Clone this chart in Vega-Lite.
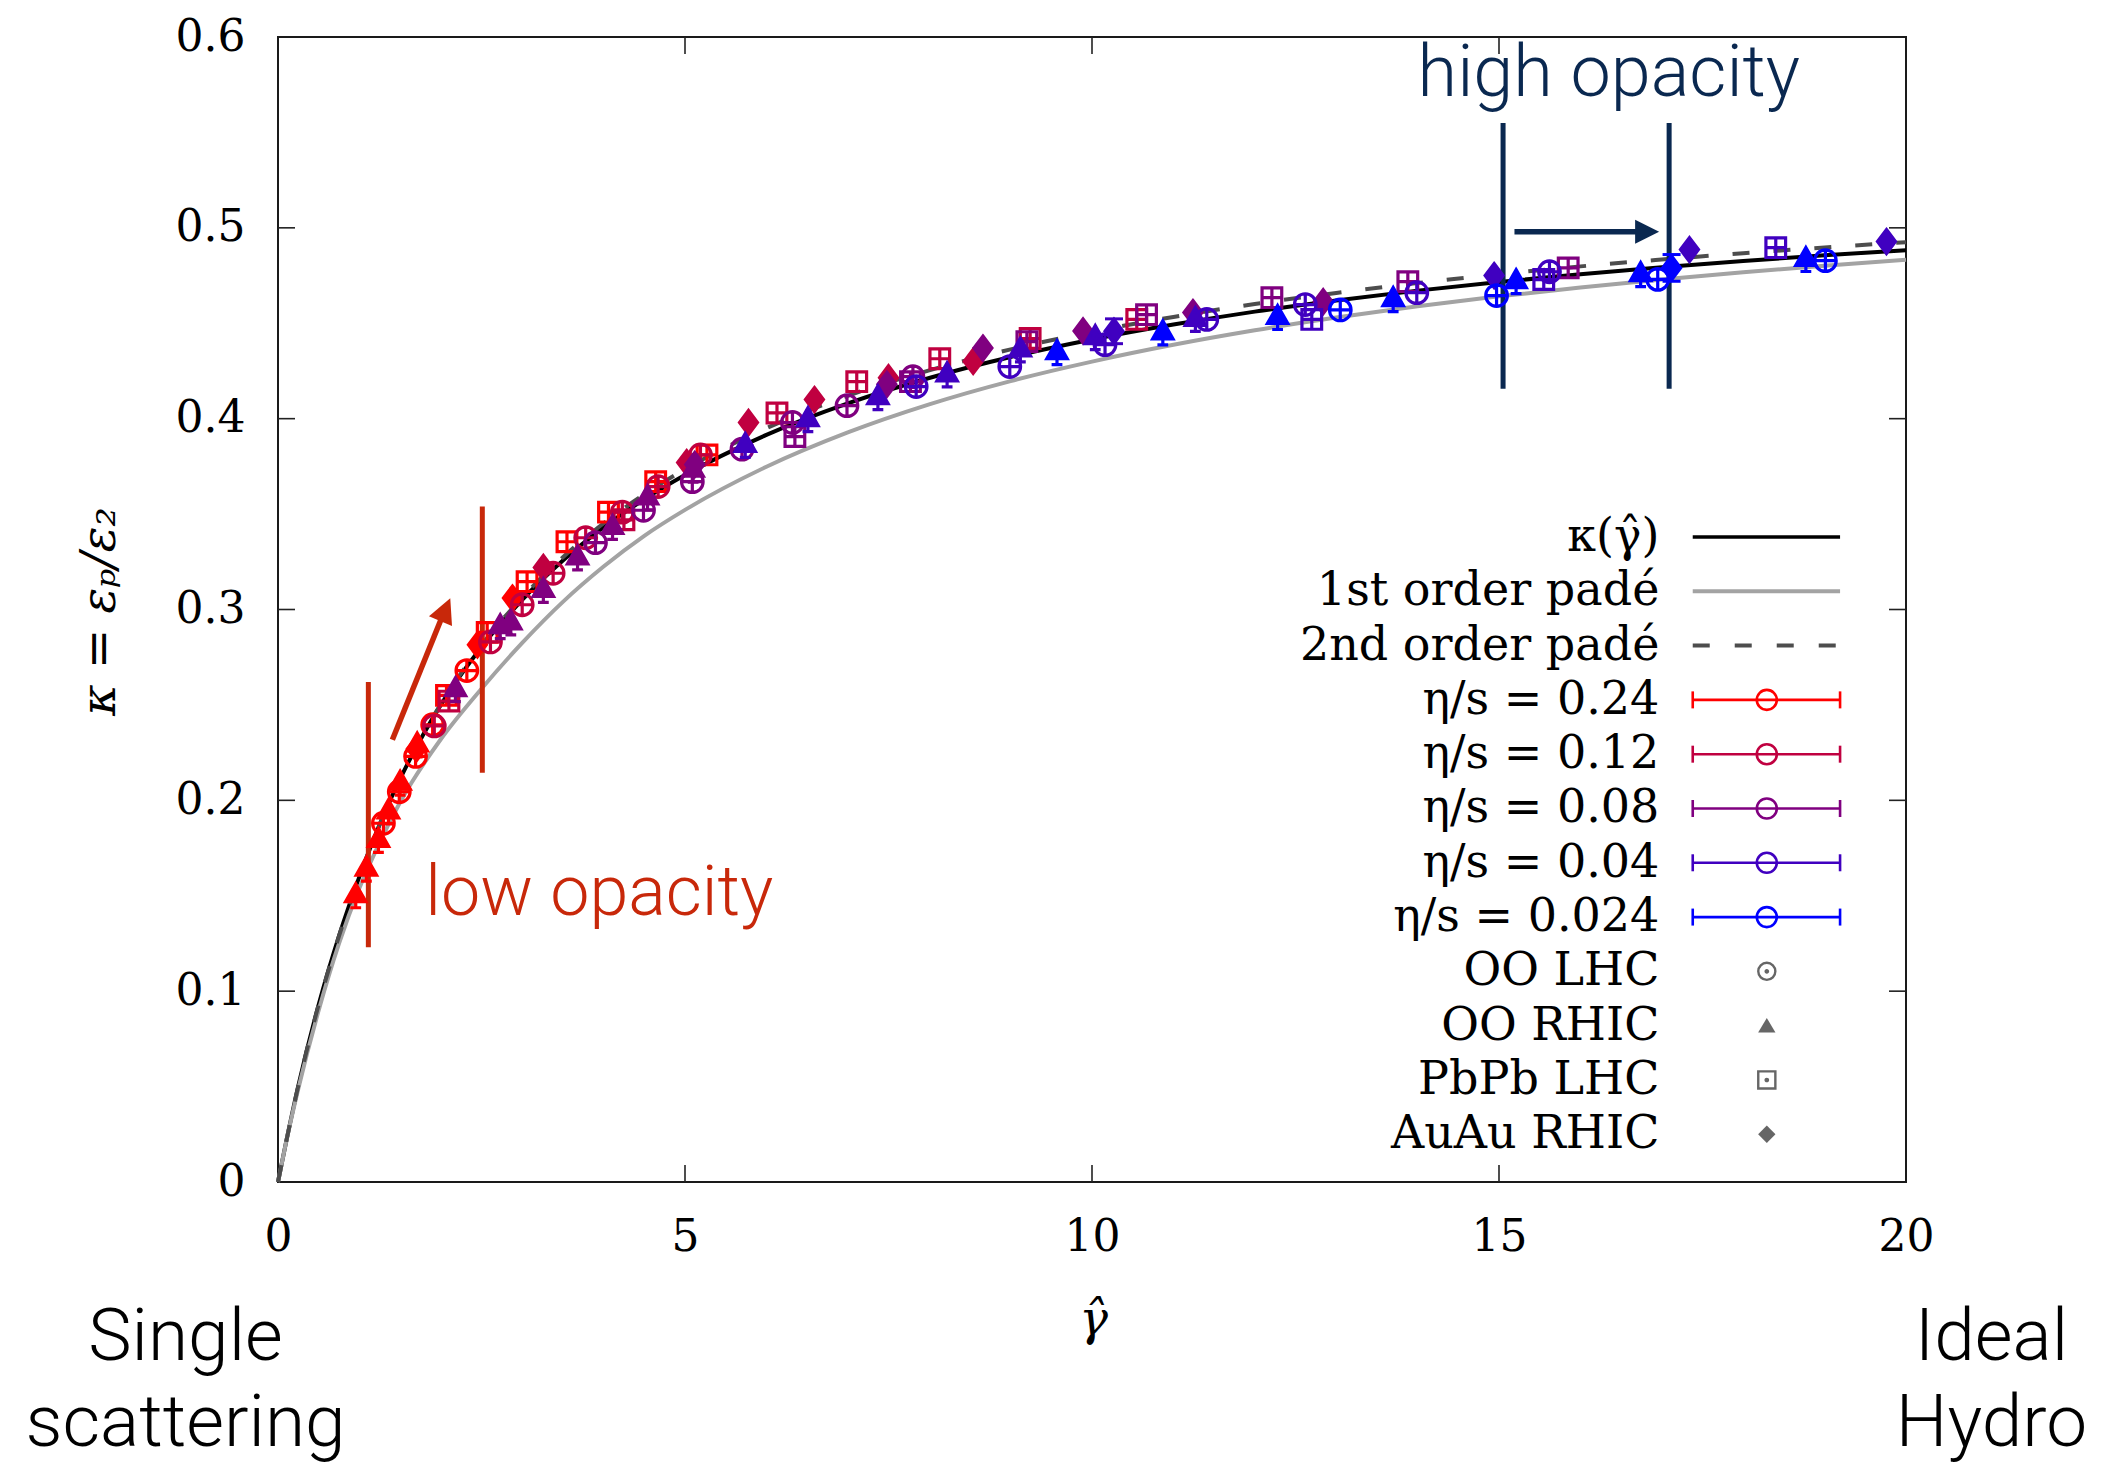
{
"$schema": "https://vega.github.io/schema/vega-lite/v6.json",
"width": 1628, "height": 1145,
"autosize": {"type": "none"},
"padding": {"left": 278, "top": 37, "right": 196, "bottom": 282},
"background": "white",
"config": {"view": {"stroke": "#1a1a1a", "strokeWidth": 2}, "axis": {"grid": false}},
"datasets": {
"curves": [
{"g":0,"k":0,"p1":0,"p2":0},
{"g":0.1,"k":0.021,"p1":0.021,"p2":0.021},
{"g":0.25,"k":0.0505,"p1":0.049,"p2":0.0505},
{"g":0.5,"k":0.093,"p1":0.09,"p2":0.093},
{"g":0.75,"k":0.129,"p1":0.125,"p2":0.129},
{"g":1,"k":0.16,"p1":0.154,"p2":0.16},
{"g":1.25,"k":0.1875,"p1":0.178,"p2":0.1875},
{"g":1.5,"k":0.2112,"p1":0.199,"p2":0.2115},
{"g":2,"k":0.25,"p1":0.232,"p2":0.2505},
{"g":2.5,"k":0.2804,"p1":0.2585,"p2":0.2812},
{"g":3,"k":0.3051,"p1":0.2825,"p2":0.3063},
{"g":3.5,"k":0.3257,"p1":0.304,"p2":0.3274},
{"g":4,"k":0.343,"p1":0.3225,"p2":0.3452},
{"g":4.5,"k":0.3578,"p1":0.3386,"p2":0.3604},
{"g":5,"k":0.3705,"p1":0.3522,"p2":0.3735},
{"g":6,"k":0.3915,"p1":0.3748,"p2":0.395},
{"g":7,"k":0.408,"p1":0.3928,"p2":0.412},
{"g":8,"k":0.4213,"p1":0.4075,"p2":0.4253},
{"g":9,"k":0.4323,"p1":0.4197,"p2":0.4363},
{"g":10,"k":0.4415,"p1":0.4299,"p2":0.4455},
{"g":11,"k":0.4493,"p1":0.4387,"p2":0.4533},
{"g":12,"k":0.4561,"p1":0.4463,"p2":0.4601},
{"g":13,"k":0.4619,"p1":0.453,"p2":0.4659},
{"g":14,"k":0.4671,"p1":0.4589,"p2":0.4711},
{"g":15,"k":0.4716,"p1":0.4641,"p2":0.4757},
{"g":16,"k":0.4757,"p1":0.4687,"p2":0.4798},
{"g":17,"k":0.4793,"p1":0.4729,"p2":0.4834},
{"g":18,"k":0.4826,"p1":0.4767,"p2":0.4867},
{"g":19,"k":0.4856,"p1":0.4801,"p2":0.4897},
{"g":20,"k":0.4883,"p1":0.4833,"p2":0.4925}
],
"pts": [
{"g":0.955,"k":0.150,"sys":"OO RHIC","eta":"0.24"},
{"g":1.086,"k":0.164,"sys":"OO RHIC","eta":"0.24"},
{"g":1.234,"k":0.179,"sys":"OO RHIC","eta":"0.24"},
{"g":1.295,"k":0.188,"sys":"OO LHC","eta":"0.24"},
{"g":1.357,"k":0.194,"sys":"OO RHIC","eta":"0.24"},
{"g":1.49,"k":0.2045,"sys":"OO LHC","eta":"0.24"},
{"g":1.50,"k":0.209,"sys":"OO RHIC","eta":"0.24"},
{"g":1.69,"k":0.223,"sys":"OO LHC","eta":"0.24"},
{"g":1.70,"k":0.227,"sys":"AuAu RHIC","eta":"0.24"},
{"g":1.71,"k":0.229,"sys":"OO RHIC","eta":"0.24"},
{"g":1.90,"k":0.2396,"sys":"OO LHC","eta":"0.24"},
{"g":2.07,"k":0.255,"sys":"PbPb LHC","eta":"0.24"},
{"g":2.32,"k":0.268,"sys":"OO LHC","eta":"0.24"},
{"g":2.45,"k":0.2815,"sys":"AuAu RHIC","eta":"0.24"},
{"g":2.57,"k":0.288,"sys":"PbPb LHC","eta":"0.24"},
{"g":2.88,"k":0.306,"sys":"AuAu RHIC","eta":"0.24"},
{"g":3.06,"k":0.3146,"sys":"PbPb LHC","eta":"0.24"},
{"g":3.55,"k":0.3355,"sys":"PbPb LHC","eta":"0.24"},
{"g":4.06,"k":0.351,"sys":"PbPb LHC","eta":"0.24"},
{"g":4.64,"k":0.367,"sys":"PbPb LHC","eta":"0.24"},
{"g":5.27,"k":0.381,"sys":"PbPb LHC","eta":"0.24"},
{"g":1.92,"k":0.239,"sys":"OO LHC","eta":"0.12"},
{"g":2.10,"k":0.252,"sys":"PbPb LHC","eta":"0.12"},
{"g":2.61,"k":0.283,"sys":"OO LHC","eta":"0.12"},
{"g":3.0,"k":0.3025,"sys":"OO LHC","eta":"0.12"},
{"g":3.26,"k":0.322,"sys":"AuAu RHIC","eta":"0.12"},
{"g":3.38,"k":0.319,"sys":"OO LHC","eta":"0.12"},
{"g":3.78,"k":0.3376,"sys":"OO LHC","eta":"0.12"},
{"g":4.23,"k":0.351,"sys":"OO LHC","eta":"0.12"},
{"g":4.25,"k":0.347,"sys":"PbPb LHC","eta":"0.12"},
{"g":4.67,"k":0.3644,"sys":"OO LHC","eta":"0.12"},
{"g":5.02,"k":0.377,"sys":"AuAu RHIC","eta":"0.12"},
{"g":5.19,"k":0.381,"sys":"OO LHC","eta":"0.12"},
{"g":5.78,"k":0.398,"sys":"AuAu RHIC","eta":"0.12"},
{"g":6.13,"k":0.403,"sys":"PbPb LHC","eta":"0.12"},
{"g":6.59,"k":0.41,"sys":"AuAu RHIC","eta":"0.12"},
{"g":7.11,"k":0.4194,"sys":"PbPb LHC","eta":"0.12"},
{"g":7.50,"k":0.4215,"sys":"AuAu RHIC","eta":"0.12"},
{"g":8.13,"k":0.4314,"sys":"PbPb LHC","eta":"0.12"},
{"g":8.54,"k":0.430,"sys":"AuAu RHIC","eta":"0.12"},
{"g":9.24,"k":0.442,"sys":"PbPb LHC","eta":"0.12"},
{"g":10.55,"k":0.452,"sys":"PbPb LHC","eta":"0.12"},
{"g":2.18,"k":0.258,"sys":"OO RHIC","eta":"0.08"},
{"g":2.73,"k":0.291,"sys":"OO RHIC","eta":"0.08"},
{"g":2.86,"k":0.293,"sys":"OO RHIC","eta":"0.08"},
{"g":3.26,"k":0.31,"sys":"OO RHIC","eta":"0.08"},
{"g":3.68,"k":0.327,"sys":"OO RHIC","eta":"0.08"},
{"g":3.90,"k":0.335,"sys":"OO LHC","eta":"0.08"},
{"g":4.11,"k":0.343,"sys":"OO RHIC","eta":"0.08"},
{"g":4.49,"k":0.352,"sys":"OO LHC","eta":"0.08"},
{"g":4.54,"k":0.3585,"sys":"OO RHIC","eta":"0.08"},
{"g":5.09,"k":0.367,"sys":"OO LHC","eta":"0.08"},
{"g":5.10,"k":0.373,"sys":"OO RHIC","eta":"0.08"},
{"g":5.12,"k":0.376,"sys":"AuAu RHIC","eta":"0.08"},
{"g":5.70,"k":0.384,"sys":"OO LHC","eta":"0.08"},
{"g":6.32,"k":0.398,"sys":"OO LHC","eta":"0.08"},
{"g":6.35,"k":0.3906,"sys":"PbPb LHC","eta":"0.08"},
{"g":6.99,"k":0.4068,"sys":"OO LHC","eta":"0.08"},
{"g":7.48,"k":0.418,"sys":"AuAu RHIC","eta":"0.08"},
{"g":7.77,"k":0.4194,"sys":"PbPb LHC","eta":"0.08"},
{"g":7.80,"k":0.422,"sys":"OO LHC","eta":"0.08"},
{"g":8.66,"k":0.437,"sys":"AuAu RHIC","eta":"0.08"},
{"g":9.20,"k":0.4404,"sys":"PbPb LHC","eta":"0.08"},
{"g":9.89,"k":0.446,"sys":"AuAu RHIC","eta":"0.08"},
{"g":10.67,"k":0.4545,"sys":"PbPb LHC","eta":"0.08"},
{"g":11.24,"k":0.4556,"sys":"AuAu RHIC","eta":"0.08"},
{"g":12.21,"k":0.4634,"sys":"PbPb LHC","eta":"0.08"},
{"g":12.84,"k":0.4613,"sys":"AuAu RHIC","eta":"0.08"},
{"g":13.88,"k":0.4718,"sys":"PbPb LHC","eta":"0.08"},
{"g":15.85,"k":0.479,"sys":"PbPb LHC","eta":"0.08"},
{"g":5.74,"k":0.386,"sys":"OO RHIC","eta":"0.04"},
{"g":6.51,"k":0.3995,"sys":"OO RHIC","eta":"0.04"},
{"g":7.37,"k":0.411,"sys":"OO RHIC","eta":"0.04"},
{"g":7.84,"k":0.4168,"sys":"OO LHC","eta":"0.04"},
{"g":8.22,"k":0.423,"sys":"OO RHIC","eta":"0.04"},
{"g":8.99,"k":0.4273,"sys":"OO LHC","eta":"0.04"},
{"g":9.12,"k":0.436,"sys":"OO RHIC","eta":"0.04"},
{"g":10.04,"k":0.4425,"sys":"OO RHIC","eta":"0.04"},
{"g":10.16,"k":0.4388,"sys":"OO LHC","eta":"0.04"},
{"g":10.27,"k":0.4458,"sys":"AuAu RHIC","eta":"0.04"},
{"g":11.27,"k":0.452,"sys":"OO RHIC","eta":"0.04"},
{"g":11.41,"k":0.452,"sys":"OO LHC","eta":"0.04"},
{"g":12.62,"k":0.4598,"sys":"OO LHC","eta":"0.04"},
{"g":12.70,"k":0.452,"sys":"PbPb LHC","eta":"0.04"},
{"g":13.99,"k":0.466,"sys":"OO LHC","eta":"0.04"},
{"g":14.94,"k":0.475,"sys":"AuAu RHIC","eta":"0.04"},
{"g":15.55,"k":0.4729,"sys":"PbPb LHC","eta":"0.04"},
{"g":15.62,"k":0.477,"sys":"OO LHC","eta":"0.04"},
{"g":17.34,"k":0.4886,"sys":"AuAu RHIC","eta":"0.04"},
{"g":18.40,"k":0.4896,"sys":"PbPb LHC","eta":"0.04"},
{"g":19.76,"k":0.4928,"sys":"AuAu RHIC","eta":"0.04"},
{"g":9.57,"k":0.4346,"sys":"OO RHIC","eta":"0.024"},
{"g":10.87,"k":0.445,"sys":"OO RHIC","eta":"0.024"},
{"g":12.28,"k":0.453,"sys":"OO RHIC","eta":"0.024"},
{"g":13.05,"k":0.457,"sys":"OO LHC","eta":"0.024"},
{"g":13.70,"k":0.4624,"sys":"OO RHIC","eta":"0.024"},
{"g":14.97,"k":0.4645,"sys":"OO LHC","eta":"0.024"},
{"g":15.21,"k":0.4718,"sys":"OO RHIC","eta":"0.024"},
{"g":16.74,"k":0.4755,"sys":"OO RHIC","eta":"0.024"},
{"g":16.95,"k":0.473,"sys":"OO LHC","eta":"0.024"},
{"g":17.12,"k":0.479,"sys":"AuAu RHIC","eta":"0.024"},
{"g":18.77,"k":0.4834,"sys":"OO RHIC","eta":"0.024"},
{"g":19.01,"k":0.4828,"sys":"OO LHC","eta":"0.024"}
],
"err": [
{"g":10.27,"lo":0.4393,"hi":0.4523,"eta":"0.04"},
{"g":17.12,"lo":0.472,"hi":0.486,"eta":"0.024"}
],
"leg": [
{"label":"κ(γ\u0302)","rank":0},
{"label":"1st order padé","rank":1},
{"label":"2nd order padé","rank":2},
{"label":"η/s = 0.24","rank":3,"eta":"0.24"},
{"label":"η/s = 0.12","rank":4,"eta":"0.12"},
{"label":"η/s = 0.08","rank":5,"eta":"0.08"},
{"label":"η/s = 0.04","rank":6,"eta":"0.04"},
{"label":"η/s = 0.024","rank":7,"eta":"0.024"},
{"label":"OO LHC","rank":8,"sys":"OO LHC"},
{"label":"OO RHIC","rank":9,"sys":"OO RHIC"},
{"label":"PbPb LHC","rank":10,"sys":"PbPb LHC"},
{"label":"AuAu RHIC","rank":11,"sys":"AuAu RHIC"}
],
"xt": [{"v":5},{"v":10},{"v":15}],
"yt": [{"v":0.1},{"v":0.2},{"v":0.3},{"v":0.4},{"v":0.5}]
},
"layer": [
{
"layer": [
{"data":{"name":"curves"},
 "mark":{"type":"line","color":"#000000","strokeWidth":4,"interpolate":"monotone"},
 "encoding":{
  "x":{"field":"g","type":"quantitative","scale":{"domain":[0,20],"nice":false,"zero":false},
   "axis":{"values":[0,5,10,15,20],"format":"d","labelFont":"DejaVu Serif","labelFontSize":44,"labelColor":"#000","labelPadding":33,"ticks":false,"tickSize":0,"domain":false,"grid":false,"labelFlush":false,"labelOverlap":false,
   "title":"γ\u0302","titleFont":"DejaVu Serif","titleFontStyle":"italic","titleFontWeight":"normal","titleFontSize":48,"titleColor":"#000","titleX":815,"titleY":138,"titleAlign":"center","titleBaseline":"middle","titleAngle":0}},
  "y":{"field":"k","type":"quantitative","scale":{"domain":[0,0.6],"nice":false,"zero":false},
   "axis":{"values":[0,0.1,0.2,0.3,0.4,0.5,0.6],"format":".1~f","labelFont":"DejaVu Serif","labelFontSize":44,"labelColor":"#000","labelPadding":33,"ticks":false,"tickSize":0,"domain":false,"grid":false,"labelFlush":false,"labelOverlap":false,
   "title":"κ = εₚ/ε₂","titleFont":"DejaVu Serif","titleFontStyle":"italic","titleFontWeight":"normal","titleFontSize":48,"titleColor":"#000","titleX":-178,"titleY":574,"titleAngle":270,"titleAlign":"center","titleBaseline":"middle"}}
 }},
{"data":{"name":"curves"},
 "mark":{"type":"line","color":"#a3a3a3","strokeWidth":4,"interpolate":"monotone"},
 "encoding":{"x":{"field":"g","type":"quantitative"},"y":{"field":"p1","type":"quantitative"}}},
{"data":{"name":"curves"},
 "mark":{"type":"line","color":"#4d4d4d","strokeWidth":4,"strokeDash":[17,24],"interpolate":"monotone"},
 "encoding":{"x":{"field":"g","type":"quantitative"},"y":{"field":"p2","type":"quantitative"}}},
{"data":{"name":"xt"},"mark":{"type":"point","shape":"M0,0V-1","size":1156,"filled":false,"stroke":"#222","strokeWidth":1.6,"opacity":1},
 "encoding":{"x":{"field":"v","type":"quantitative"},"y":{"datum":0,"type":"quantitative"}}},
{"data":{"name":"xt"},"mark":{"type":"point","shape":"M0,0V1","size":1156,"filled":false,"stroke":"#222","strokeWidth":1.6,"opacity":1},
 "encoding":{"x":{"field":"v","type":"quantitative"},"y":{"datum":0.6,"type":"quantitative"}}},
{"data":{"name":"yt"},"mark":{"type":"point","shape":"M0,0H1","size":1156,"filled":false,"stroke":"#222","strokeWidth":1.6,"opacity":1},
 "encoding":{"y":{"field":"v","type":"quantitative"},"x":{"datum":0,"type":"quantitative"}}},
{"data":{"name":"yt"},"mark":{"type":"point","shape":"M0,0H-1","size":1156,"filled":false,"stroke":"#222","strokeWidth":1.6,"opacity":1},
 "encoding":{"y":{"field":"v","type":"quantitative"},"x":{"datum":20,"type":"quantitative"}}},
{"data":{"values":[{"g":1.11,"lo":0.123,"hi":0.262},{"g":2.51,"lo":0.2144,"hi":0.354}]},
 "mark":{"type":"rule","color":"#c8280a","strokeWidth":5},
 "encoding":{"x":{"field":"g","type":"quantitative"},"y":{"field":"lo","type":"quantitative"},"y2":{"field":"hi"}}},
{"data":{"values":[{"g":1.405,"k":0.2317,"g2":2.0,"k2":0.2945}]},
 "mark":{"type":"rule","color":"#c8280a","strokeWidth":5.5},
 "encoding":{"x":{"field":"g","type":"quantitative"},"y":{"field":"k","type":"quantitative"},"x2":{"field":"g2"},"y2":{"field":"k2"}}},
{"data":{"values":[{"g":2.056,"k":0.2999}]},
 "mark":{"type":"point","shape":"M0,-1L1,1L-1,1Z","size":625,"angle":23,"filled":true,"color":"#c8280a","opacity":1},
 "encoding":{"x":{"field":"g","type":"quantitative"},"y":{"field":"k","type":"quantitative"}}},
{"data":{"values":[{"g":15.05,"lo":0.4157,"hi":0.555},{"g":17.09,"lo":0.4157,"hi":0.555}]},
 "mark":{"type":"rule","color":"#0a2850","strokeWidth":5},
 "encoding":{"x":{"field":"g","type":"quantitative"},"y":{"field":"lo","type":"quantitative"},"y2":{"field":"hi"}}},
{"data":{"values":[{"g":15.19,"k":0.498,"g2":16.7,"k2":0.498}]},
 "mark":{"type":"rule","color":"#0a2850","strokeWidth":5.5},
 "encoding":{"x":{"field":"g","type":"quantitative"},"y":{"field":"k","type":"quantitative"},"x2":{"field":"g2"},"y2":{"field":"k2"}}},
{"data":{"values":[{"g":16.82,"k":0.498}]},
 "mark":{"type":"point","shape":"M0,-1L1,1L-1,1Z","size":576,"angle":90,"filled":true,"color":"#0a2850","opacity":1},
 "encoding":{"x":{"field":"g","type":"quantitative"},"y":{"field":"k","type":"quantitative"}}},
{"data":{"name":"err"},
 "mark":{"type":"rule","strokeWidth":3},
 "encoding":{"x":{"field":"g","type":"quantitative"},"y":{"field":"lo","type":"quantitative"},"y2":{"field":"hi"},
  "stroke":{"field":"eta","type":"nominal","scale":{"domain":["0.24","0.12","0.08","0.04","0.024"],"range":["#ff0000","#c00040","#800080","#4000c0","#0000ff"]},"legend":null}}},
{"data":{"name":"err"},
 "mark":{"type":"point","shape":"M-1,0H1","size":324,"filled":false,"strokeWidth":3,"opacity":1},
 "encoding":{"x":{"field":"g","type":"quantitative"},"y":{"field":"lo","type":"quantitative"},
  "stroke":{"field":"eta","type":"nominal","legend":null}}},
{"data":{"name":"err"},
 "mark":{"type":"point","shape":"M-1,0H1","size":324,"filled":false,"strokeWidth":3,"opacity":1},
 "encoding":{"x":{"field":"g","type":"quantitative"},"y":{"field":"hi","type":"quantitative"},
  "stroke":{"field":"eta","type":"nominal","legend":null}}},
{"data":{"name":"pts"},
 "mark":{"type":"point","size":576,"strokeWidth":3.2,"opacity":1},
 "encoding":{"x":{"field":"g","type":"quantitative"},"y":{"field":"k","type":"quantitative"},
  "shape":{"field":"sys","type":"nominal","scale":{"domain":["OO LHC","OO RHIC","PbPb LHC","AuAu RHIC"],
    "range":["M0.9,0A0.9,0.9,0,1,1,-0.9,0A0.9,0.9,0,1,1,0.9,0Z M-0.9,0H0.9 M0,-0.9V0.9",
             "M0,-1L0.85,0.5H-0.85Z M0,0.5V1 M-0.45,1H0.45",
             "M-0.82,-0.82H0.82V0.82H-0.82Z M-0.82,0H0.82 M0,-0.82V0.82",
             "M0,-1L0.75,0L0,1L-0.75,0Z"]},"legend":null},
  "stroke":{"field":"eta","type":"nominal","legend":null},
  "fill":{"field":"eta","type":"nominal","scale":{"domain":["0.24","0.12","0.08","0.04","0.024"],"range":["#ff0000","#c00040","#800080","#4000c0","#0000ff"]},"legend":null},
  "fillOpacity":{"field":"sys","type":"nominal","scale":{"type":"ordinal","domain":["OO LHC","OO RHIC","PbPb LHC","AuAu RHIC"],"range":[0,1,0,1]},"legend":null}
 }},
{"data":{"values":[{"g":1.81,"k":0.14,"t":"low opacity"}]},
 "mark":{"type":"text","align":"left","baseline":"alphabetic","font":"Roboto","fontWeight":300,"fontSize":70,"color":"#c8280a"},
 "encoding":{"x":{"field":"g","type":"quantitative"},"y":{"field":"k","type":"quantitative"},"text":{"field":"t"}}},
{"data":{"values":[{"g":14.0,"k":0.569,"t":"high opacity"}]},
 "mark":{"type":"text","align":"left","baseline":"alphabetic","font":"Roboto","fontWeight":300,"fontSize":72,"color":"#0a2850"},
 "encoding":{"x":{"field":"g","type":"quantitative"},"y":{"field":"k","type":"quantitative"},"text":{"field":"t"}}},
{"data":{"values":[{"g":-1.136,"k":-0.0933,"t":"Single"},{"g":-1.136,"k":-0.1385,"t":"scattering"},{"g":21.05,"k":-0.0933,"t":"Ideal"},{"g":21.05,"k":-0.1385,"t":"Hydro"}]},
 "mark":{"type":"text","align":"center","baseline":"alphabetic","font":"Roboto","fontWeight":300,"fontSize":73,"color":"#000"},
 "encoding":{"x":{"field":"g","type":"quantitative"},"y":{"field":"k","type":"quantitative"},"text":{"field":"t"}}}
]
},
{
"layer": [
{"data":{"name":"leg"},
 "mark":{"type":"text","align":"right","baseline":"middle","font":"DejaVu Serif","fontSize":46,"color":"#000"},
 "encoding":{"x":{"datum":16.97,"type":"quantitative"},
  "y":{"field":"rank","type":"quantitative","scale":{"domain":[-9.208,11.879],"reverse":true,"nice":false,"zero":false},"axis":null},
  "text":{"field":"label"}}},
{"data":{"name":"leg"},"transform":[{"filter":{"field":"rank","equal":0}}],
 "mark":{"type":"rule","color":"#000","strokeWidth":3.6},
 "encoding":{"x":{"datum":17.38,"type":"quantitative"},"x2":{"datum":19.19},"y":{"field":"rank","type":"quantitative","axis":null}}},
{"data":{"name":"leg"},"transform":[{"filter":{"field":"rank","equal":1}}],
 "mark":{"type":"rule","color":"#a3a3a3","strokeWidth":4},
 "encoding":{"x":{"datum":17.38,"type":"quantitative"},"x2":{"datum":19.19},"y":{"field":"rank","type":"quantitative","axis":null}}},
{"data":{"name":"leg"},"transform":[{"filter":{"field":"rank","equal":2}}],
 "mark":{"type":"rule","color":"#4d4d4d","strokeWidth":4,"strokeDash":[17,25]},
 "encoding":{"x":{"datum":17.38,"type":"quantitative"},"x2":{"datum":19.19},"y":{"field":"rank","type":"quantitative","axis":null}}},
{"data":{"name":"leg"},"transform":[{"filter":"isValid(datum.eta)"}],
 "mark":{"type":"rule","strokeWidth":2.6},
 "encoding":{"x":{"datum":17.38,"type":"quantitative"},"x2":{"datum":19.19},"y":{"field":"rank","type":"quantitative","axis":null},
  "stroke":{"field":"eta","type":"nominal","scale":{"domain":["0.24","0.12","0.08","0.04","0.024"],"range":["#ff0000","#c00040","#800080","#4000c0","#0000ff"]},"legend":null}}},
{"data":{"name":"leg"},"transform":[{"filter":"isValid(datum.eta)"}],
 "mark":{"type":"point","shape":"M0,-1V1","size":289,"filled":false,"strokeWidth":2.6,"opacity":1},
 "encoding":{"x":{"datum":17.38,"type":"quantitative"},"y":{"field":"rank","type":"quantitative","axis":null},
  "stroke":{"field":"eta","type":"nominal","legend":null}}},
{"data":{"name":"leg"},"transform":[{"filter":"isValid(datum.eta)"}],
 "mark":{"type":"point","shape":"M0,-1V1","size":289,"filled":false,"strokeWidth":2.6,"opacity":1},
 "encoding":{"x":{"datum":19.19,"type":"quantitative"},"y":{"field":"rank","type":"quantitative","axis":null},
  "stroke":{"field":"eta","type":"nominal","legend":null}}},
{"data":{"name":"leg"},"transform":[{"filter":"isValid(datum.eta)"}],
 "mark":{"type":"point","shape":"circle","size":400,"filled":false,"strokeWidth":2.6,"opacity":1},
 "encoding":{"x":{"datum":18.29,"type":"quantitative"},"y":{"field":"rank","type":"quantitative","axis":null},
  "stroke":{"field":"eta","type":"nominal","legend":null}}},
{"data":{"name":"leg"},"transform":[{"filter":{"field":"sys","equal":"OO LHC"}}],
 "mark":{"type":"point","shape":"M0.9,0A0.9,0.9,0,1,1,-0.9,0A0.9,0.9,0,1,1,0.9,0Z M0.12,0A0.12,0.12,0,1,1,-0.12,0A0.12,0.12,0,1,1,0.12,0Z","size":361,"filled":false,"stroke":"#666","strokeWidth":2.4,"opacity":1},
 "encoding":{"x":{"datum":18.29,"type":"quantitative"},"y":{"field":"rank","type":"quantitative","axis":null}}},
{"data":{"name":"leg"},"transform":[{"filter":{"field":"sys","equal":"OO RHIC"}}],
 "mark":{"type":"point","shape":"M0,-0.9L1,0.8H-1Z","size":300,"filled":true,"color":"#666","opacity":1},
 "encoding":{"x":{"datum":18.29,"type":"quantitative"},"y":{"field":"rank","type":"quantitative","axis":null}}},
{"data":{"name":"leg"},"transform":[{"filter":{"field":"sys","equal":"PbPb LHC"}}],
 "mark":{"type":"point","shape":"M-0.9,-0.9H0.9V0.9H-0.9Z M0.12,0A0.12,0.12,0,1,1,-0.12,0A0.12,0.12,0,1,1,0.12,0Z","size":361,"filled":false,"stroke":"#666","strokeWidth":2.4,"opacity":1},
 "encoding":{"x":{"datum":18.29,"type":"quantitative"},"y":{"field":"rank","type":"quantitative","axis":null}}},
{"data":{"name":"leg"},"transform":[{"filter":{"field":"sys","equal":"AuAu RHIC"}}],
 "mark":{"type":"point","shape":"M0,-1L1,0L0,1L-1,0Z","size":300,"filled":true,"color":"#666","opacity":1},
 "encoding":{"x":{"datum":18.29,"type":"quantitative"},"y":{"field":"rank","type":"quantitative","axis":null}}}
]
}
],
"resolve": {"scale": {"y": "independent"}}
}
